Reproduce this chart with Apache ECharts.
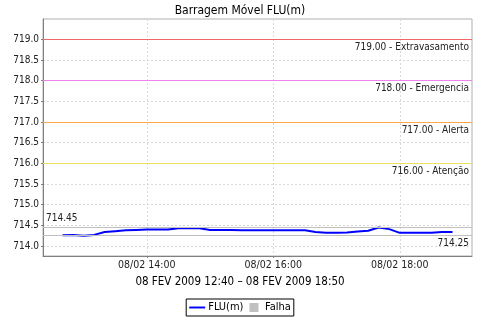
<!DOCTYPE html>
<html><head><meta charset="utf-8">
<script src="https://cdn.jsdelivr.net/npm/echarts@6/dist/echarts.min.js"></script>
<style>html,body{margin:0;padding:0;background:#fff}#c{width:480px;height:320px}</style>
</head><body><div id="c"></div>
<script>
const times = ['12:40','12:50','13:00','13:10','13:20','13:30','13:40','13:50','14:00','14:10','14:20','14:30','14:40','14:50','15:00','15:10','15:20','15:30','15:40','15:50','16:00','16:10','16:20','16:30','16:40','16:50','17:00','17:10','17:20','17:30','17:40','17:50','18:00','18:10','18:20','18:30','18:40','18:50'];
const fluValues = [714.26,714.27,714.25,714.27,714.34,714.36,714.38,714.39,714.40,714.40,714.40,714.43,714.43,714.43,714.39,714.39,714.39,714.38,714.38,714.38,714.38,714.38,714.38,714.38,714.34,714.32,714.32,714.33,714.35,714.37,714.45,714.41,714.32,714.32,714.32,714.32,714.34,714.34];
const xTickTimes = ['14:00','16:00','18:00'];
const yTicks = [714.0,714.5,715.0,715.5,716.0,716.5,717.0,717.5,718.0,718.5,719.0];
const markerValues = [719, 718, 717, 716];
const markerNames = ['Extravasamento','Emergencia','Alerta','Atenção'];
const statMax = 714.45, statMin = 714.25;
const chartTitle = 'Barragem Móvel FLU(m)';
const axisTitle = '08 FEV 2009 12:40 – 08 FEV 2009 18:50';
const datePrefix = '08/02 ';

const toMin = s => { const [h,m] = s.split(':').map(Number); return h*60+m; };
const pad = n => String(n).padStart(2,'0');
const fmt = v => datePrefix + pad(Math.floor(v/60)) + ':' + pad(Math.round(v%60));
const FONT = "'DejaVu Sans Condensed','DejaVu Sans',sans-serif";
const markerColors = ['#f06868','#ee82ee','#ffa848','#ece060'];

const chart = echarts.init(document.getElementById('c'), null, {renderer:'canvas'});
const markData = markerValues.map((v,i)=>({
  yAxis: v,
  lineStyle:{color:markerColors[i], width:1, type:'solid'},
  label:{show:true, position:'insideEndBottom', formatter: v.toFixed(2)+' - '+markerNames[i],
    color:'#222', fontSize:10, fontFamily:FONT, distance:[3,3]}
}));
markData.push({yAxis: statMax, lineStyle:{color:'#c0c0c0', width:1, type:'solid'},
  label:{show:true, position:'insideStartTop', formatter: statMax.toFixed(2), color:'#222', fontSize:10, fontFamily:FONT, distance:[3,4]}});
markData.push({yAxis: statMin, lineStyle:{color:'#c0c0c0', width:1, type:'solid'},
  label:{show:true, position:'insideEndBottom', formatter: statMin.toFixed(2), color:'#222', fontSize:10, fontFamily:FONT, distance:[3,3]}});

chart.setOption({
  animation:false,
  backgroundColor:'#fff',
  title:[
    {text:chartTitle, left:'center', top:0, textStyle:{fontFamily:FONT, fontSize:12, fontWeight:'normal', color:'#000'}},
    {text:axisTitle, left:'center', top:276, padding:0, textStyle:{fontFamily:FONT, fontSize:11.5, fontWeight:'normal', color:'#000'}}
  ],
  grid:{left:43, right:8, top:19, bottom:64, show:true, borderColor:'#b0b0b0', borderWidth:1},
  legend:{top:299, left:'center', borderColor:'#000', borderWidth:1, padding:[3,3,3,3], itemGap:6, itemWidth:16, itemHeight:9,
    textStyle:{fontFamily:FONT, fontSize:11, color:'#000', padding:[0,0,0,-2]},
    data:[{name:'FLU(m)', icon:'path://M0,0H20V2.4H0Z'},{name:'Falha', icon:'path://M0,0H10V10H0Z'}]},
  xAxis:{type:'value', min:741.5, max:1148.5,
    axisLine:{lineStyle:{color:'#808080'}},
    axisTick:{show:true, length:2, customValues:xTickTimes.map(toMin), lineStyle:{color:'#808080'}},
    axisLabel:{customValues:xTickTimes.map(toMin), formatter:fmt, fontFamily:FONT, fontSize:10.5, color:'#222', margin:4},
    splitLine:{show:true, lineStyle:{color:'#d8d8d8', type:[2,2], width:1}}},
  yAxis:{type:'value', min:713.76, max:719.49,
    axisLine:{show:true, lineStyle:{color:'#808080'}},
    axisTick:{show:true, length:2, customValues:yTicks, lineStyle:{color:'#808080'}},
    axisLabel:{customValues:yTicks, formatter:v=>v.toFixed(1), fontFamily:FONT, fontSize:10, color:'#222', margin:4},
    splitLine:{show:true, lineStyle:{color:'#d8d8d8', type:[2,2], width:1}}},
  series:[
    {name:'FLU(m)', type:'line', data:times.map((t,i)=>[toMin(t), fluValues[i]]), showSymbol:false,
      lineStyle:{color:'#0000ff', width:2}, itemStyle:{color:'#0000ff'},
      markLine:{silent:true, symbol:'none', animation:false, data:markData}},
    {name:'Falha', type:'line', data:[], itemStyle:{color:'#c0c0c0'}, lineStyle:{color:'#c0c0c0'}}
  ]
});
</script></body></html>
